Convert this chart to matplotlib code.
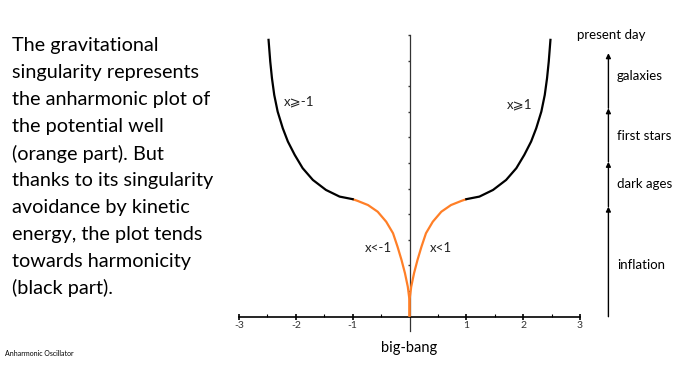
import matplotlib
matplotlib.use("Agg")
import matplotlib.pyplot as plt
import numpy as np

plt.rcParams['font.family'] = ['Lato', 'DejaVu Sans']

# Data (right half; left half is mirror)
orange_x = [0.0, 0.0, 0.03, 0.08, 0.14, 0.21, 0.29, 0.41, 0.56, 0.73, 0.91, 1.0]
orange_y = [0.0, 0.65, 1.17, 1.70, 2.21, 2.73, 3.26, 3.71, 4.10, 4.36, 4.52, 4.59]
black_x = [1.0, 1.23, 1.47, 1.70, 1.88, 2.02, 2.14, 2.23, 2.32, 2.38, 2.42, 2.45, 2.48]
black_y = [4.59, 4.69, 4.95, 5.34, 5.80, 6.32, 6.84, 7.36, 8.01, 8.66, 9.31, 9.96, 10.81]

xticks = [-3, -2, -1, 1, 2, 3]
xtick_labels = ['-3', '-2', '-1', '1', '2', '3']

region_labels = ['x⩾-1', 'x⩾1', 'x<-1', 'x<1']
region_pos = [(-1.94, 8.4), (1.94, 8.3), (-0.55, 2.68), (0.55, 2.68)]

era_bounds = [0.0, 4.3, 6.05, 8.14, 10.29]
era_names = ['inflation', 'dark ages', 'first stars', 'galaxies']
era_label_y = [2.0, 5.2, 7.05, 9.4]
top_label = 'present day'

paragraph = ["The gravitational", "singularity represents", "the anharmonic plot of",
             "the potential well", "(orange part). But", "thanks to its singularity",
             "avoidance by kinetic", "energy, the plot tends", "towards harmonicity",
             "(black part)."]

W, H = 691, 365
fig = plt.figure(figsize=(W/100, H/100), dpi=100)
ax = fig.add_axes([239/W, (H-330.8)/H, 341/W, (330.8-35)/H])
ax.set_xlim(-3, 3)
ax.set_ylim(-0.55, 11)

ox = np.array(orange_x); oy = np.array(orange_y)
bx = np.array(black_x); by = np.array(black_y)
orange = '#ff7f27'
ax.plot(ox, oy, color=orange, lw=1.6, solid_capstyle='butt', solid_joinstyle='round', zorder=3)
ax.plot(-ox, oy, color=orange, lw=1.6, solid_capstyle='butt', solid_joinstyle='round', zorder=3)
ax.plot(bx, by, color='black', lw=1.6, solid_joinstyle='round', zorder=3)
ax.plot(-bx, by, color='black', lw=1.6, solid_joinstyle='round', zorder=3)

for s in ['top', 'right']:
    ax.spines[s].set_visible(False)
ax.spines['left'].set_position(('data', 0))
ax.spines['bottom'].set_position(('data', 0))
ax.spines['left'].set_color('#333333')
ax.spines['bottom'].set_color('black')
ax.spines['left'].set_linewidth(0.9)
ax.spines['bottom'].set_linewidth(1.2)

ax.set_xticks(xticks)
ax.set_xticklabels(xtick_labels)
ax.set_xticks(np.arange(-2.5, 3, 1.0), minor=True)
ax.tick_params(axis='x', which='major', direction='inout', length=4, width=1.2,
               labelsize=7.5, labelcolor='#333333', pad=1)
ax.tick_params(axis='x', which='minor', direction='in', length=2.5, width=0.8)
ax.set_yticks(range(1, 12))
ax.tick_params(axis='y', which='major', direction='out', length=1.5, width=1,
               labelleft=False, color='#333333')

ax.set_xlabel('big-bang', fontsize=10.5, labelpad=0)
ax.xaxis.set_label_coords(0.5, -0.035)

for lab, (x, y) in zip(region_labels, region_pos):
    ax.text(x, y, lab, fontsize=9.5, ha='center', va='center', color='#222222')

# timeline arrows
tx = 3.5
for i in range(len(era_names)):
    ax.annotate('', xy=(tx, era_bounds[i+1]), xytext=(tx, era_bounds[i]),
                arrowprops=dict(arrowstyle='-|>', color='black', lw=1.0,
                                mutation_scale=7, shrinkA=0, shrinkB=0),
                annotation_clip=False)
    ax.text(tx + 0.15, era_label_y[i], era_names[i], fontsize=9.5, va='center',
            ha='left', clip_on=False)
ax.text(tx + 0.05, 11.0, top_label, fontsize=9.5, va='center', ha='center', clip_on=False)

for i, line in enumerate(paragraph):
    fig.text(12/W, 1 - (46 + 26.9*i)/H, line, fontsize=14.3, va='center', ha='left')

fig.text(5/W, 1 - 354/H, 'Anharmonic Oscillator', fontsize=5, va='center', ha='left')

fig.savefig('out.png', dpi=100)
